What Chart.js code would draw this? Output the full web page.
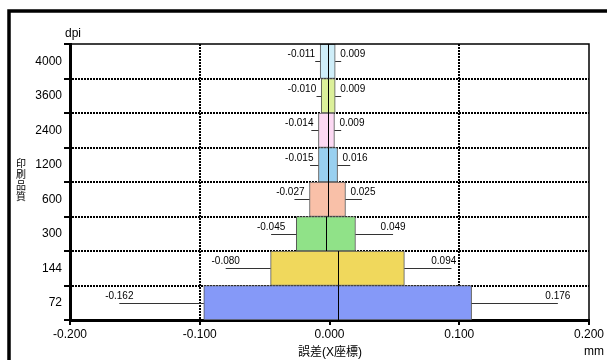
<!DOCTYPE html>
<html>
<head>
<meta charset="utf-8">
<script src="https://cdn.jsdelivr.net/npm/chart.js@4/dist/chart.umd.min.js"></script>
<style>
  html, body { margin: 0; padding: 0; background: #fff; }
  canvas { display: block; }
</style>
</head>
<body>
<canvas id="chart" width="607" height="360"></canvas>
<script>
// 印刷品質 (dpi) rows, top to bottom
const dpiLabels = ['4000', '3600', '2400', '1200', '600', '300', '144', '72'];
// box extents and centre line (mm)
const barLow  = [-0.0072, -0.0064, -0.0085, -0.0085, -0.0154, -0.0256, -0.0454, -0.0969];
const barHigh = [0.0044, 0.0044, 0.0038, 0.0062, 0.0123, 0.0200, 0.0577, 0.1095];
const barMid  = [-0.0013, -0.0013, -0.0015, -0.0013, -0.0013, -0.0026, 0.0064, 0.0064];
// min / max error labels (mm)
const errMin = [-0.011, -0.010, -0.014, -0.015, -0.027, -0.045, -0.080, -0.162];
const errMax = [0.009, 0.009, 0.009, 0.016, 0.025, 0.049, 0.094, 0.176];
const xTicks = [-0.2, -0.1, 0, 0.1, 0.2];
const yTitle = ['印', '刷', '品', '質'];

const barColors = ['#cfeef9', '#dcf09a', '#fcd9f3', '#99d0f0', '#f9c0a8', '#90e288', '#f0d85c', '#8599f8'];
const FONT = '"Liberation Sans", Arial, "Noto Sans CJK JP", sans-serif';
const CJK = '"Noto Sans CJK JP", sans-serif';

const extras = {
  id: 'extras',
  afterDatasetsDraw(chart) {
    const ctx = chart.ctx;
    const xs = chart.scales.x, ys = chart.scales.y;
    const area = chart.chartArea;
    const rowH = (area.bottom - area.top) / dpiLabels.length;

    ctx.save();
    // plot frame (top / right)
    ctx.strokeStyle = '#000';
    ctx.lineWidth = 1.5;
    ctx.beginPath();
    ctx.moveTo(area.left, area.top);
    ctx.lineTo(area.right, area.top);
    ctx.lineTo(area.right, area.bottom);
    ctx.stroke();

    ctx.font = '10px ' + FONT;
    ctx.textBaseline = 'middle';
    ctx.fillStyle = '#000';
    dpiLabels.forEach((lab, i) => {
      const yc = ys.getPixelForValue(i);
      // centre line
      const xm = xs.getPixelForValue(barMid[i]);
      ctx.strokeStyle = '#000';
      ctx.lineWidth = 1;
      ctx.beginPath();
      ctx.moveTo(Math.round(xm) + 0.5, yc - rowH / 2);
      ctx.lineTo(Math.round(xm) + 0.5, yc + rowH / 2);
      ctx.stroke();

      // leader lines
      const xl = xs.getPixelForValue(barLow[i]);
      const xr = xs.getPixelForValue(barHigh[i]);
      const vMin = xs.getPixelForValue(errMin[i]);
      const vMax = xs.getPixelForValue(errMax[i]);
      ctx.strokeStyle = '#333';
      ctx.beginPath();
      ctx.moveTo(vMin, Math.round(yc) + 0.5);
      ctx.lineTo(xl, Math.round(yc) + 0.5);
      ctx.moveTo(xr, Math.round(yc) + 0.5);
      ctx.lineTo(vMax, Math.round(yc) + 0.5);
      ctx.stroke();

      // labels, kept clear of the box and of the dotted grid line
      const tMin = errMin[i].toFixed(3);
      const tMax = errMax[i].toFixed(3);
      const wMin = ctx.measureText(tMin).width;
      const wMax = ctx.measureText(tMax).width;
      let cMin = Math.min(vMin, xl - 5 - wMin / 2);
      let cMax = Math.max(vMax, xr + 5 + wMax / 2);
      const gR = xs.getPixelForValue(0.1);
      if (cMax + wMax / 2 > gR - 3 && cMax - wMax / 2 < gR + 3) cMax = gR - 3 - wMax / 2;
      ctx.textAlign = 'center';
      ctx.fillText(tMin, cMin, yc - 7);
      ctx.fillText(tMax, cMax, yc - 7);
    });

    // axis titles
    ctx.font = '12px ' + FONT;
    ctx.textAlign = 'left';
    ctx.textBaseline = 'alphabetic';
    ctx.fillText('dpi', 65, 37);
    ctx.textAlign = 'center';
    ctx.fillText('誤差(X座標)', 330, 356);
    ctx.fillText('mm', 594, 355);
    ctx.font = '10px ' + CJK;
    ctx.textBaseline = 'middle';
    yTitle.forEach((ch, k) => ctx.fillText(ch, 21, 163.5 + k * 11));

    // outer frame
    ctx.strokeStyle = '#000';
    ctx.lineWidth = 3.5;
    ctx.beginPath();
    ctx.moveTo(9, 360);
    ctx.lineTo(9, 11);
    ctx.lineTo(607, 11);
    ctx.stroke();
    ctx.restore();
  }
};

new Chart(document.getElementById('chart'), {
  type: 'bar',
  data: {
    labels: dpiLabels,
    datasets: [{
      data: dpiLabels.map((_, i) => [barLow[i], barHigh[i]]),
      backgroundColor: barColors,
      borderColor: '#555',
      borderWidth: 1,
      borderSkipped: false,
      categoryPercentage: 1,
      barPercentage: 1
    }]
  },
  options: {
    indexAxis: 'y',
    responsive: false,
    animation: false,
    devicePixelRatio: 1,
    layout: { padding: { top: 44, right: 18, left: 0, bottom: 0 } },
    plugins: { legend: { display: false }, tooltip: { enabled: false } },
    scales: {
      x: {
        type: 'linear',
        min: -0.2,
        max: 0.2,
        afterBuildTicks: s => { s.ticks = xTicks.map(v => ({ value: v })); },
        afterFit: s => { s.height = 40; },
        ticks: {
          autoSkip: false,
          maxRotation: 0,
          padding: 2,
          color: '#000',
          font: { size: 12, family: FONT },
          callback: v => Number(v).toFixed(3)
        },
        grid: {
          color: c => (c.tick && Math.abs(Math.abs(c.tick.value) - 0.1) < 1e-9) ? '#000' : 'transparent',
          lineWidth: 2,
          tickColor: '#000',
          tickLength: 5,
          tickWidth: 2
        },
        border: { color: '#000', width: 3, dash: [2, 1] }
      },
      y: {
        afterFit: s => { s.width = 70; },
        ticks: {
          padding: 2,
          color: '#000',
          font: { size: 12, family: FONT }
        },
        grid: {
          offset: true,
          color: c => c.index === 0 ? 'transparent' : '#000',
          lineWidth: 2,
          tickColor: '#000',
          tickLength: 6,
          tickWidth: 2
        },
        border: { color: '#000', width: 3, dash: [2, 1] }
      }
    }
  },
  plugins: [extras]
});
</script>
</body>
</html>
